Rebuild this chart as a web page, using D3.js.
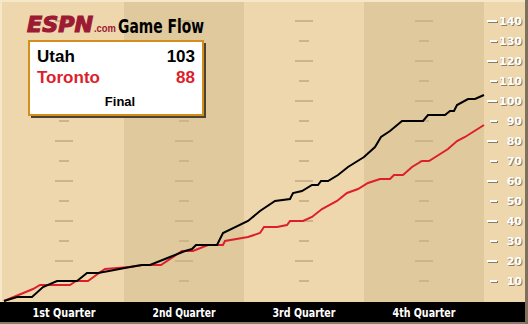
<!DOCTYPE html>
<html>
<head>
<meta charset="utf-8">
<script src="https://cdn.jsdelivr.net/npm/d3@7"></script>
<style>
  html, body { margin: 0; padding: 0; background: #fff; }
  svg { display: block; }
</style>
</head>
<body>
<svg id="chart"></svg>
<script>
////////////////// data ////////////////////
// [game minute, running score]
const utahPts = [[0,0],[1.3,2],[2.8,2],[3.9,7],[5.3,10],[7.3,10],[8.3,14],[9.4,14],[10.5,15],[12.6,17],
  [13.8,18],[14.6,18],[16.6,22],[18.1,25],[18.8,26],[19.2,28],[21.3,28],[21.9,34],[24.4,40],[25.6,45],
  [27.1,50],[28.6,51],[28.9,54],[29.8,55],[30.8,58],[31.4,58],[31.7,60],[32.4,60],[33.4,63],[34.4,67],
  [36.0,72],[37.1,77],[37.7,82],[38.6,85],[39.8,90],[41.9,90],[42.4,93],[44.1,93],[44.6,95],[45.0,95],
  [45.3,98],[46.4,101],[47.1,101],[48,103]];
const torontoPts = [[0,0],[2.9,6],[3.6,8],[6.6,8],[7.2,10],[8.4,10],[9.5,14],[10.1,16],[12.6,17],[13.8,18],
  [15.7,18],[17.8,25],[18.9,25],[20.4,28],[21.9,28],[22.1,30],[24.4,32],[25.6,34],[26,37],[27.3,37],
  [28.3,38],[28.6,40],[29.9,40],[30.8,42],[31.8,46],[33.3,50],[34.3,54],[35.4,56],[36.4,59],[37.6,61],
  [38.6,61],[39,63],[39.9,63],[40.8,67],[41.8,70],[42.5,70],[44.4,76],[45.3,80],[46.1,82],[48,88]];
const quarterLabels = ["1st Quarter", "2nd Quarter", "3rd Quarter", "4th Quarter"];
const yTicks = [10,20,30,40,50,60,70,80,90,100,110,120,130,140];
const teams = ["Utah", "Toronto"];
const finalScores = [103, 88];
const gameStatus = "Final";

////////////////// setup ////////////////////
const W = 528, H = 324;
const svg = d3.select("#chart").attr("width", W).attr("height", H);
const x = d3.scaleLinear().domain([0, 48]).range([4, 484]);
const y = d3.scaleLinear().domain([0, 150]).range([301, 1]);
const light = "#eed7ac", dark = "#dfc99d", gridCol = "#cdb48b";
const red = "#dd1f2c";

// background + quarter bands
svg.append("rect").attr("width", W).attr("height", H).attr("fill", light);
svg.selectAll("rect.band")
  .data([1, 3])
  .enter().append("rect")
  .attr("class", "band")
  .attr("x", d => x(d * 12))
  .attr("y", 0)
  .attr("width", x(12) - x(0))
  .attr("height", 302)
  .attr("fill", dark);
// light edge at top / left
svg.append("rect").attr("width", W).attr("height", 2).attr("fill", "#f6e7c9");
svg.append("rect").attr("width", 2).attr("height", 302).attr("fill", "#f6e7c9");

// faint ticks in the middle of each quarter
const grid = svg.append("g");
[0, 1, 2, 3].forEach(q => {
  const cx = x(q * 12 + 6);
  grid.selectAll(null)
    .data(yTicks)
    .enter().append("rect")
    .attr("x", d => cx - (d % 20 === 0 ? 9 : 5))
    .attr("y", d => y(d) - 1)
    .attr("width", d => d % 20 === 0 ? 18 : 10)
    .attr("height", 2)
    .attr("fill", gridCol);
});

// right axis
const axisG = svg.append("g");
const tickG = axisG.selectAll("g").data(yTicks).enter().append("g")
  .attr("transform", d => `translate(0,${y(d)})`);
tickG.append("rect")
  .attr("x", d => (d % 20 === 0 ? 487 : 490) + 1).attr("y", 0)
  .attr("width", d => d % 20 === 0 ? 10 : 7).attr("height", 2)
  .attr("fill", "#8c7c60");
tickG.append("rect")
  .attr("x", d => d % 20 === 0 ? 487 : 490).attr("y", -1)
  .attr("width", d => d % 20 === 0 ? 10 : 7).attr("height", 2)
  .attr("fill", "#fff");
tickG.append("text")
  .attr("x", 523).attr("y", 5)
  .attr("text-anchor", "end")
  .attr("font-family", "DejaVu Sans, sans-serif")
  .attr("font-weight", "bold").attr("font-size", 11)
  .attr("fill", "#8c7c60")
  .text(d => d);
tickG.append("text")
  .attr("x", 522).attr("y", 4)
  .attr("text-anchor", "end")
  .attr("font-family", "DejaVu Sans, sans-serif")
  .attr("font-weight", "bold").attr("font-size", 11)
  .attr("fill", "#fff")
  .text(d => d);

// score lines
const line = d3.line().x(d => x(d[0])).y(d => y(d[1]));
svg.append("path").datum(torontoPts)
  .attr("d", line).attr("fill", "none")
  .attr("stroke", red).attr("stroke-width", 2);
svg.append("path").datum(utahPts)
  .attr("d", line).attr("fill", "none")
  .attr("stroke", "#000").attr("stroke-width", 2);

// bottom bar
svg.append("rect").attr("x", 0).attr("y", 302).attr("width", W).attr("height", 22).attr("fill", "#8a7d66");
svg.append("rect").attr("x", 0).attr("y", 302).attr("width", 526).attr("height", 20).attr("fill", "#000");
svg.selectAll("text.q")
  .data(quarterLabels)
  .enter().append("text")
  .attr("class", "q")
  .attr("x", (d, i) => x(i * 12 + 6))
  .attr("y", 317)
  .attr("text-anchor", "middle")
  .attr("font-family", "Liberation Sans Narrow, DejaVu Sans Condensed, sans-serif")
  .attr("font-weight", "bold").attr("font-size", 13)
  .attr("fill", "#fff")
  .attr("textLength", 63).attr("lengthAdjust", "spacingAndGlyphs")
  .text(d => d);
// right border
svg.append("rect").attr("x", 525).attr("y", 0).attr("width", 3).attr("height", H).attr("fill", "#7e705a");

// header
svg.append("text")
  .attr("x", 27).attr("y", 32)
  .attr("font-family", "DejaVu Sans, sans-serif")
  .attr("font-weight", "900").attr("font-style", "italic").attr("font-size", 22)
  .attr("fill", "#9c1a33").attr("stroke", "#9c1a33").attr("stroke-width", 1.2)
  .attr("textLength", 66).attr("lengthAdjust", "spacingAndGlyphs")
  .text("ESPN");
svg.append("text")
  .attr("x", 94).attr("y", 32)
  .attr("font-family", "Liberation Sans, sans-serif")
  .attr("font-weight", "bold").attr("font-size", 10)
  .attr("fill", "#9c1a33")
  .attr("textLength", 22).attr("lengthAdjust", "spacingAndGlyphs")
  .text(".com");
svg.append("text")
  .attr("x", 118).attr("y", 33)
  .attr("font-family", "Liberation Sans Narrow, DejaVu Sans Condensed, sans-serif")
  .attr("font-weight", "bold").attr("font-size", 20)
  .attr("fill", "#000")
  .attr("textLength", 86).attr("lengthAdjust", "spacingAndGlyphs")
  .text("Game Flow");

// score box
const box = svg.append("g");
box.append("rect").attr("x", 31).attr("y", 43).attr("width", 175).attr("height", 75).attr("fill", "#4a4235");
box.append("rect").attr("x", 29).attr("y", 41).attr("width", 174).attr("height", 74)
  .attr("fill", "#fff").attr("stroke", "#d38e1c").attr("stroke-width", 2);
teams.forEach((t, i) => {
  const col = i === 0 ? "#000" : red;
  box.append("text").attr("x", 37).attr("y", 62 + i * 21)
    .attr("font-family", "Liberation Sans, Arial, sans-serif")
    .attr("font-weight", "bold").attr("font-size", 17).attr("fill", col)
    .text(t);
  box.append("text").attr("x", 195).attr("y", 62 + i * 21)
    .attr("text-anchor", "end")
    .attr("font-family", "Liberation Sans, Arial, sans-serif")
    .attr("font-weight", "bold").attr("font-size", 17).attr("fill", col)
    .text(finalScores[i]);
});
box.append("text").attr("x", 120).attr("y", 106)
  .attr("text-anchor", "middle")
  .attr("font-family", "Liberation Sans, Arial, sans-serif")
  .attr("font-weight", "bold").attr("font-size", 13).attr("fill", "#000")
  .text(gameStatus);
</script>
</body>
</html>
